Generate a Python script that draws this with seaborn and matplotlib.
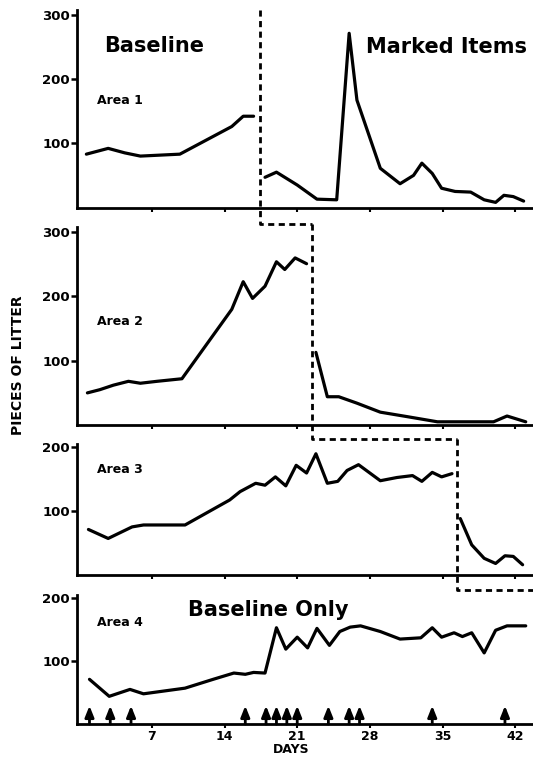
import pandas as pd
import matplotlib.pyplot as plt
import seaborn as sns

# Area 1
a1_base_days = [0.7, 2.8, 4.4, 5.9, 9.7, 14.7, 15.8, 16.8]
a1_base_vals = [83, 92, 85, 80, 83, 126, 142, 142]
a1_trt_days = [17.9, 19.0, 21.0, 22.9, 24.8, 26.0, 26.75, 29.0, 30.9, 32.2, 33.0,
               34.0, 34.9, 36.2, 37.7, 39.0, 40.1, 40.9, 41.8, 42.8]
a1_trt_vals = [47, 55, 35, 13, 12, 271, 167, 61, 37, 50, 69, 53, 30, 25, 24, 12, 8, 19, 17, 10]

# Area 2
a2_base_days = [0.8, 2.0, 3.3, 4.75, 5.9, 7.5, 9.9, 14.7, 15.8, 16.7, 17.9, 19.0, 19.8, 20.8, 21.9]
a2_base_vals = [50, 55, 62, 68, 65, 68, 72, 180, 223, 197, 216, 254, 242, 260, 251]
a2_trt_days = [22.8, 23.9, 25.0, 26.75, 29.0, 31.6, 34.5, 36.4, 39.9, 41.2, 43.0]
a2_trt_vals = [113, 44, 44, 34, 20, 13, 5, 5, 5, 14, 5]

# Area 3
a3_base_days = [0.9, 2.8, 5.1, 6.2, 10.2, 14.5, 15.5, 17.0, 17.9, 18.9, 19.9, 20.9, 21.9,
                22.8, 23.9, 24.9, 25.8, 26.9, 29.0, 30.6, 32.1, 33.0, 34.0, 34.9, 35.9]
a3_base_vals = [71, 57, 75, 78, 78, 117, 130, 143, 140, 153, 139, 171, 159,
                189, 143, 146, 163, 172, 147, 152, 155, 146, 160, 153, 158]
a3_trt_days = [36.7, 37.8, 39.0, 40.1, 41.0, 41.8, 42.7]
a3_trt_vals = [88, 47, 26, 18, 30, 29, 16]

# Area 4 (baseline only)
a4_days = [1.0, 2.9, 4.9, 6.2, 10.2, 12.9, 14.9, 16.0, 16.8, 17.9, 19.0, 19.9, 21.0, 22.0,
           22.9, 24.1, 25.1, 26.1, 27.1, 29.0, 30.9, 32.9, 34.0, 34.9, 36.1, 36.9, 37.8,
           39.0, 40.1, 41.2, 43.0]
a4_vals = [71, 44, 55, 48, 57, 71, 81, 79, 82, 81, 153, 119, 138, 121,
           152, 125, 147, 154, 156, 147, 135, 137, 153, 138, 145, 139, 145,
           113, 149, 156, 156]

arrow_days = [1, 3, 5, 16, 18, 19, 20, 21, 24, 26, 27, 34, 41]
phase_change = [17.4, 22.4, 36.4]
area_names = ['Area 1', 'Area 2', 'Area 3', 'Area 4']
x_ticks = [7, 14, 21, 28, 35, 42]

sns.set_theme(style="ticks")
plt.rcParams['font.family'] = ['DejaVu Sans']
plt.rcParams['font.weight'] = 'bold'
plt.rcParams['text.color'] = 'black'
plt.rcParams['xtick.color'] = 'black'
plt.rcParams['ytick.color'] = 'black'
plt.rcParams['xtick.labelcolor'] = 'black'
plt.rcParams['ytick.labelcolor'] = 'black'

fig = plt.figure(figsize=(5.33, 7.61), dpi=100)
rects = [[0.1445, 0.7273, 0.8555, 0.2598],
         [0.1445, 0.4415, 0.8555, 0.2597],
         [0.1445, 0.2444, 0.8555, 0.1728],
         [0.1445, 0.0486, 0.8555, 0.1695]]
axes = [fig.add_axes(r) for r in rects]

series = [
    [(a1_base_days, a1_base_vals), (a1_trt_days, a1_trt_vals)],
    [(a2_base_days, a2_base_vals), (a2_trt_days, a2_trt_vals)],
    [(a3_base_days, a3_base_vals), (a3_trt_days, a3_trt_vals)],
    [(a4_days, a4_vals)],
]
ymax = [300, 300, 200, 200]

for i, ax in enumerate(axes):
    for days, vals in series[i]:
        df = pd.DataFrame({'day': days, 'litter': vals})
        sns.lineplot(data=df, x='day', y='litter', ax=ax, color='black', lw=2.3,
                     solid_joinstyle='round', solid_capstyle='round')
    ax.set_xlim(-0.2, 43.7)
    ax.set_ylim(0, ymax[i] * 1.025)
    ax.set_yticks(range(100, ymax[i] + 1, 100))
    ax.set_xticks(x_ticks)
    sns.despine(ax=ax)
    for s in ['left', 'bottom']:
        ax.spines[s].set_linewidth(2.0)
        ax.spines[s].set_color('black')
    ax.tick_params(axis='y', length=4, width=1.8, labelsize=9.5, pad=1)
    ax.tick_params(axis='x', length=3, width=1.5, labelsize=9, pad=1)
    ax.set_xlabel('')
    ax.set_ylabel('')
    if i < 3:
        ax.set_xticklabels([])
    ax.text(1.7, [166, 161, 164, 161][i], area_names[i], fontsize=9, fontweight='bold',
            va='center', ha='left')

# phase-change staircase
dash = dict(color='black', lw=2.0, linestyle=(0, (2.2, 1.6)), clip_on=False)
axes[0].plot([phase_change[0], phase_change[0], phase_change[1]], [1.0, -0.083, -0.083],
             transform=axes[0].get_xaxis_transform(), **dash)
axes[1].plot([phase_change[1], phase_change[1], phase_change[2]], [1.017, -0.071, -0.071],
             transform=axes[1].get_xaxis_transform(), **dash)
axes[2].plot([phase_change[2], phase_change[2], 44.0], [1.034, -0.114, -0.114],
             transform=axes[2].get_xaxis_transform(), **dash)

axes[0].text(7.2, 251, 'Baseline', fontsize=15, fontweight='heavy', ha='center', va='center')
axes[0].text(35.4, 249, 'Marked Items', fontsize=15, fontweight='heavy', ha='center', va='center')
axes[3].text(18.2, 181, 'Baseline Only', fontsize=15, fontweight='heavy', ha='center', va='center')

for d in arrow_days:
    axes[3].annotate('', xy=(d, 29), xytext=(d, 0),
                     arrowprops=dict(arrowstyle='-|>,head_length=0.55,head_width=0.22',
                                     mutation_scale=12, lw=2.0, color='black',
                                     shrinkA=0, shrinkB=0))

axes[3].set_xticklabels([str(t) for t in x_ticks], fontweight='bold')
fig.text(0.546, 0.007, 'DAYS', fontsize=9, fontweight='bold', ha='center', va='bottom')
fig.text(0.033, 0.52, 'PIECES OF LITTER', fontsize=10, fontweight='bold',
         rotation=90, ha='center', va='center')

fig.savefig('out.png', dpi=100)
